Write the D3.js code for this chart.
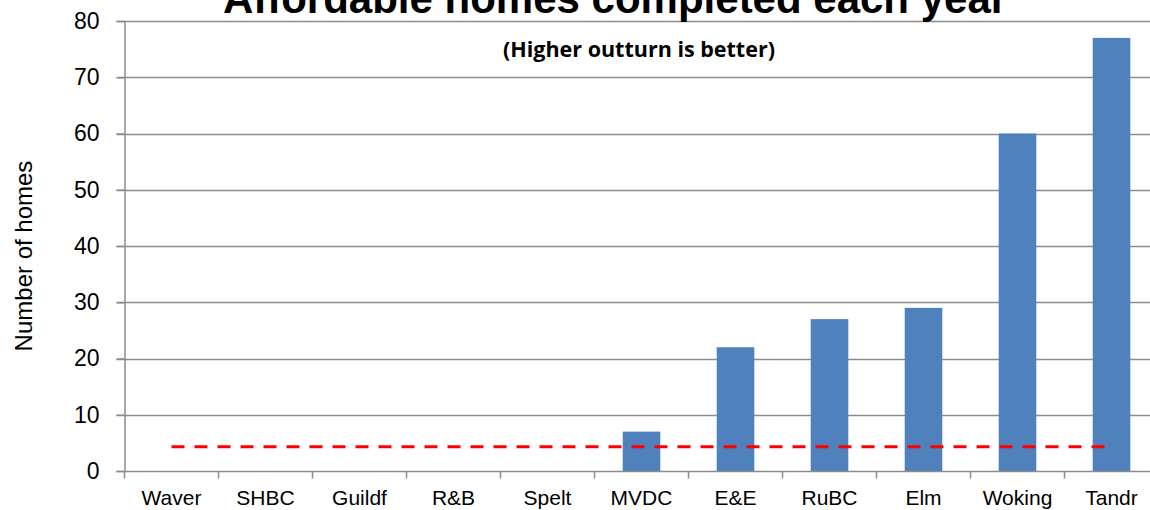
<!DOCTYPE html>
<html>
<head>
<meta charset="utf-8">
<script src="https://cdn.jsdelivr.net/npm/d3@7"></script>
<style>
  body { margin: 0; background: #fff; overflow: hidden; }
  svg { display: block; font-family: "Liberation Sans", Arial, sans-serif; }
</style>
</head>
<body>
<div id="chart"></div>
<script>
// Affordable homes completed each year, by authority
const categories = ["Waver", "SHBC", "Guildf", "R&B", "Spelt", "MVDC", "E&E", "RuBC", "Elm", "Woking", "Tandr"];
const homes = [0, 0, 0, 0, 0, 7, 22, 27, 29, 60, 77];
const targetValue = 4.3;   // red dashed reference line
const yTicks = [0, 10, 20, 30, 40, 50, 60, 70, 80];

const width = 1150;
const height = 510;
const margin = { top: 21, left: 124.5, bottom: 39 };
const bandW = 94;

const svg = d3.select("#chart").append("svg")
    .attr("width", width)
    .attr("height", height);

const x = d3.scaleBand()
    .domain(categories)
    .range([margin.left, margin.left + bandW * categories.length])
    .paddingInner(0.6)
    .paddingOuter(0.3);

const y = d3.scaleLinear()
    .domain([0, 80])
    .range([height - margin.bottom, margin.top]);

const x0 = margin.left;
const x1 = margin.left + bandW * categories.length;

// gridlines
svg.append("g")
    .selectAll("line")
    .data(yTicks.filter(d => d > 0))
    .join("line")
    .attr("x1", x0 - 8)
    .attr("x2", x1)
    .attr("y1", d => Math.round(y(d)) + 0.5)
    .attr("y2", d => Math.round(y(d)) + 0.5)
    .attr("stroke", "#8c8c8c")
    .attr("stroke-width", 1.5);

// bars
svg.append("g")
    .selectAll("rect")
    .data(homes)
    .join("rect")
    .attr("x", (d, i) => x(categories[i]))
    .attr("width", x.bandwidth())
    .attr("y", d => y(d))
    .attr("height", d => y(0) - y(d))
    .attr("fill", "#4f81bd");

// y axis
const yAxis = svg.append("g")
    .attr("transform", `translate(${x0},0)`)
    .call(d3.axisLeft(y).tickValues(yTicks).tickSize(8).tickPadding(17).tickSizeOuter(0));
yAxis.select(".domain").attr("stroke", "#8c8c8c").attr("stroke-width", 1.5);
yAxis.selectAll(".tick line").attr("stroke", "#8c8c8c").attr("stroke-width", 1.5);
yAxis.selectAll(".tick text")
    .attr("fill", "#000")
    .style("font-size", "23px")
    .style("font-family", "'Liberation Sans', Arial, sans-serif");

// x axis: ticks at category boundaries
const xAxisG = svg.append("g")
    .attr("transform", `translate(0,${Math.round(y(0)) + 0.5})`);
xAxisG.append("line")
    .attr("x1", x0 - 8).attr("x2", x1)
    .attr("stroke", "#8c8c8c").attr("stroke-width", 1.5);
xAxisG.selectAll("line.tk")
    .data(d3.range(categories.length + 1))
    .join("line")
    .attr("class", "tk")
    .attr("x1", i => x0 + i * bandW)
    .attr("x2", i => x0 + i * bandW)
    .attr("y1", 0).attr("y2", 7)
    .attr("stroke", "#8c8c8c").attr("stroke-width", 1.5);
xAxisG.selectAll("text")
    .data(categories)
    .join("text")
    .attr("x", d => x(d) + x.bandwidth() / 2)
    .attr("y", 33)
    .attr("text-anchor", "middle")
    .style("font-size", "21px")
    .text(d => d);

// red dashed reference line from first to last category centre
svg.append("line")
    .attr("x1", x(categories[0]) + x.bandwidth() / 2)
    .attr("x2", x(categories[categories.length - 1]) + x.bandwidth() / 2)
    .attr("y1", y(targetValue))
    .attr("y2", y(targetValue))
    .attr("stroke", "#ff0000")
    .attr("stroke-width", 3)
    .attr("stroke-dasharray", "13,10");

// y axis label
svg.append("text")
    .attr("transform", "rotate(-90)")
    .attr("x", -256)
    .attr("y", 32)
    .attr("text-anchor", "middle")
    .style("font-size", "24px")
    .text("Number of homes");

// title (partly cut off at the top)
svg.append("text")
    .attr("x", 615)
    .attr("y", 13)
    .attr("text-anchor", "middle")
    .style("font-size", "42px")
    .style("font-weight", "bold")
    .text("Affordable homes completed each year");

svg.append("text")
    .attr("x", 639)
    .attr("y", 57)
    .attr("text-anchor", "middle")
    .style("font-family", "'Open Sans', Lato, sans-serif")
    .style("font-size", "21.5px")
    .style("font-weight", "bold")
    .text("(Higher outturn is better)");
</script>
</body>
</html>
